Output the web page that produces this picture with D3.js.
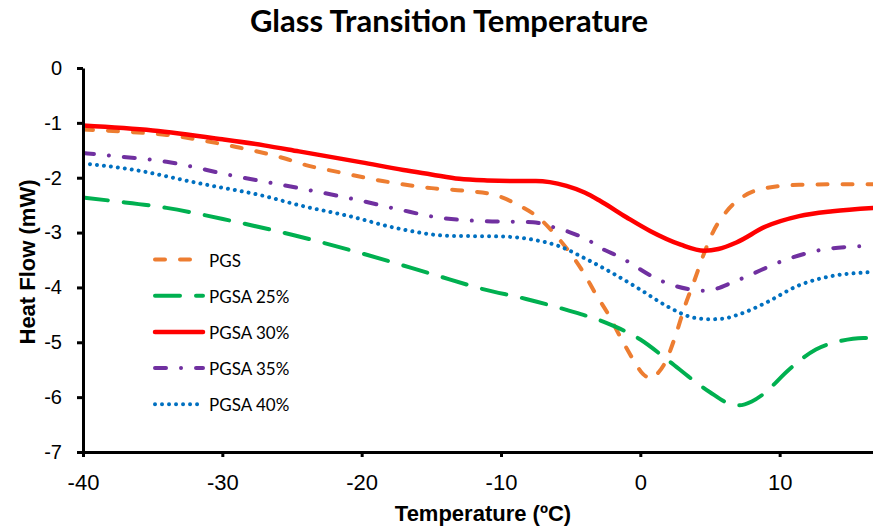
<!DOCTYPE html>
<html>
<head>
<meta charset="utf-8">
<script src="https://cdn.jsdelivr.net/npm/d3@7"></script>
<style>
    body { margin: 0; background: #fff; }
    svg { display: block; }
</style>
</head>
<body>
<svg id="chart"></svg>
<script>
// readings, [temperature in ºC, heat flow in mW]
const pgs = [[-40, -1.12], [-37, -1.16], [-34, -1.22], [-31, -1.34], [-29, -1.44], [-25.5, -1.65],
    [-24, -1.77], [-22, -1.88], [-18.5, -2.06], [-15, -2.19], [-12.5, -2.24], [-10.5, -2.31],
    [-8.6, -2.52], [-7.2, -2.75], [-6.1, -3.04], [-5.1, -3.35], [-4.1, -3.72], [-3.2, -4.12],
    [-2.3, -4.49], [-1.4, -4.92], [-0.5, -5.32], [0.2, -5.58], [0.8, -5.66], [1.3, -5.55],
    [1.8, -5.36], [2.5, -4.9], [3.2, -4.34], [3.9, -3.86], [4.5, -3.43], [5.2, -3.0],
    [6.2, -2.61], [7.4, -2.34], [9, -2.19], [11.4, -2.13], [14, -2.12], [16.7, -2.12]]

const pgsa25 = [[-40, -2.36], [-38, -2.42], [-34, -2.55], [-29.3, -2.79], [-25, -3.04], [-19.7, -3.4],
    [-14.9, -3.76], [-11.3, -4.03], [-8.2, -4.21], [-5.3, -4.41], [-2.4, -4.65], [0, -4.95],
    [1.9, -5.31], [4, -5.73], [5, -5.91], [6.4, -6.12], [7.1, -6.15], [8, -6.08], [8.8, -5.95],
    [10.7, -5.49], [12.6, -5.13], [14.3, -4.98], [16, -4.92], [16.7, -4.92]]

const pgsa30 = [[-40, -1.05], [-35, -1.14], [-30, -1.3], [-27, -1.41], [-24.5, -1.52], [-20, -1.72],
    [-17, -1.86], [-15, -1.94], [-13, -2.02], [-11, -2.05], [-9, -2.06], [-7.5, -2.06],
    [-6.5, -2.08], [-5.3, -2.15], [-4, -2.27], [-2.9, -2.42], [-1, -2.72], [0.7, -2.97],
    [2.9, -3.22], [4.6, -3.33], [5.6, -3.3], [6.9, -3.18], [9, -2.89], [11.4, -2.7],
    [13.8, -2.61], [16.7, -2.55]]

const pgsa35 = [[-40, -1.55], [-38, -1.6], [-34, -1.71], [-29.3, -1.96], [-24.5, -2.19], [-20.4, -2.4],
    [-17.3, -2.58], [-14.4, -2.73], [-11.3, -2.79], [-7.7, -2.81], [-6.4, -2.89], [-5.1, -2.99],
    [-3.8, -3.13], [-2.7, -3.3], [-1.35, -3.46], [-0.2, -3.64], [1, -3.82], [2.35, -3.96],
    [3.7, -4.04], [4.5, -4.06], [5.2, -4.04], [6.6, -3.91], [7.8, -3.78], [10.5, -3.49], [13.1, -3.31],
    [15, -3.26], [16.7, -3.24]]

const pgsa40 = [[-40, -1.74], [-36.5, -1.85], [-31.7, -2.1], [-26.9, -2.34], [-24.5, -2.5], [-20.9, -2.7],
    [-17.3, -2.93], [-13.7, -3.06], [-10.1, -3.07], [-7.7, -3.13], [-5.8, -3.25], [-3.9, -3.48],
    [-2, -3.74], [0, -4.04], [1.9, -4.34], [3.8, -4.55], [4.9, -4.58], [5.9, -4.57], [7.1, -4.49],
    [9, -4.28], [11.4, -3.96], [13.8, -3.79], [16, -3.73], [16.7, -3.72]]

const seriesNames = ['PGS', 'PGSA 25%', 'PGSA 30%', 'PGSA 35%', 'PGSA 40%']
const seriesData = [pgs, pgsa25, pgsa30, pgsa35, pgsa40]
const xTicks = [-40, -30, -20, -10, 0, 10]
const yTicks = [0, -1, -2, -3, -4, -5, -6, -7]

const colors = ['#ED7D31', '#00B050', '#FF0000', '#7030A0', '#0070C0']
const dashes = ['10,15', '25,16', null, '11,15,0.01,15', '0.01,7']
const widths = [4, 4, 4.5, 4, 4]

const arial = 'Arial, "Liberation Sans", sans-serif'
const calibri = 'Lato, "Open Sans", sans-serif'

let width = 873
let height = 528

const svg = d3.select('#chart')
    .attr('width', width)
    .attr('height', height)

const xScale = d3.scaleLinear().domain([-40, 16.7]).range([83, 873])
const yScale = d3.scaleLinear().domain([0, -7]).range([68, 452])

svg.append('defs')
    .append('clipPath')
    .attr('id', 'plot')
    .append('rect')
    .attr('x', 83)
    .attr('y', 40)
    .attr('width', 790)
    .attr('height', 412)

// title
svg.append('text')
    .attr('x', 449)
    .attr('y', 32)
    .attr('text-anchor', 'middle')
    .style('font-family', calibri)
    .style('font-weight', 'bold')
    .style('font-size', '31px')
    .text('Glass Transition Temperature')

const line = d3.line()
    .x((d) => xScale(d[0]))
    .y((d) => yScale(d[1]))
    .curve(d3.curveMonotoneX)

svg.append('g')
    .attr('clip-path', 'url(#plot)')
    .selectAll('path')
    .data(seriesData)
    .enter()
    .append('path')
    .attr('d', (d) => line(d))
    .attr('fill', 'none')
    .attr('stroke', (d, i) => colors[i])
    .attr('stroke-width', (d, i) => widths[i])
    .attr('stroke-dasharray', (d, i) => dashes[i])
    .attr('stroke-linecap', 'round')
    .attr('stroke-linejoin', 'round')

// axes, plain hyphen for the minus like the reference
const yAxis = svg.append('g')
    .attr('transform', 'translate(83,0)')
    .call(d3.axisLeft(yScale).tickValues(yTicks).tickFormat((d) => String(d)).tickSize(6).tickSizeOuter(0).tickPadding(15))

const xAxis = svg.append('g')
    .attr('transform', 'translate(0,452)')
    .call(d3.axisBottom(xScale).tickValues(xTicks).tickFormat((d) => String(d)).tickSize(5).tickSizeOuter(0).tickPadding(17))

yAxis.selectAll('path, line').attr('stroke', '#000').attr('stroke-width', 3)
xAxis.selectAll('path, line').attr('stroke', '#000').attr('stroke-width', 3)

yAxis.selectAll('text')
    .style('font-family', arial)
    .style('font-size', '20px')
    .attr('fill', '#000')

xAxis.selectAll('text')
    .style('font-family', arial)
    .style('font-size', '22px')
    .attr('fill', '#000')

// axis titles
svg.append('text')
    .attr('transform', 'translate(35,262) rotate(-90)')
    .attr('text-anchor', 'middle')
    .style('font-family', arial)
    .style('font-weight', 'bold')
    .style('font-size', '22px')
    .text('Heat Flow (mW)')

svg.append('text')
    .attr('x', 483)
    .attr('y', 521)
    .attr('text-anchor', 'middle')
    .style('font-family', arial)
    .style('font-weight', 'bold')
    .style('font-size', '22px')
    .text('Temperature (ºC)')

// legend
const legend = svg.append('g')
    .selectAll('g')
    .data(seriesNames)
    .enter()
    .append('g')
    .attr('transform', (d, i) => 'translate(0,' + (259.5 + i * 36.2) + ')')

legend.append('line')
    .attr('x1', 155)
    .attr('x2', 203)
    .attr('stroke', (d, i) => colors[i])
    .attr('stroke-width', (d, i) => widths[i])
    .attr('stroke-dasharray', (d, i) => dashes[i])
    .attr('stroke-linecap', 'round')

legend.append('text')
    .attr('x', 209)
    .attr('y', 7)
    .style('font-family', calibri)
    .style('font-size', '17px')
    .attr('fill', '#000')
    .text((d) => d)
</script>
</body>
</html>
